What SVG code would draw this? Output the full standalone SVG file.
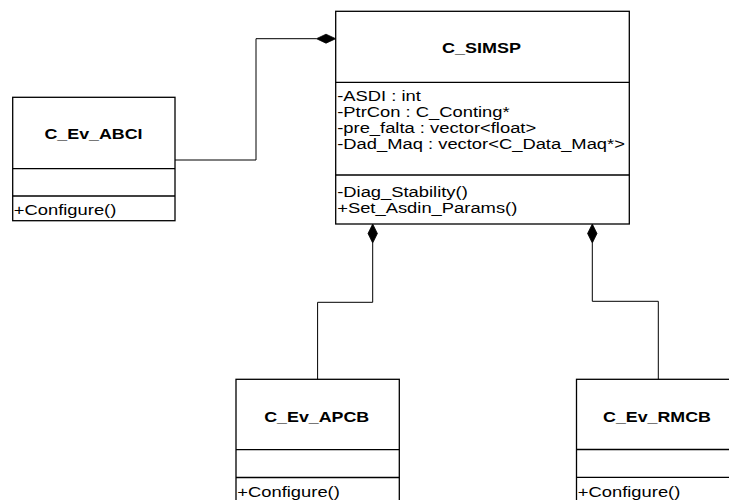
<svg xmlns="http://www.w3.org/2000/svg" width="729" height="500" viewBox="0 0 729 500">
  <style>
    .box { fill: #ffffff; stroke: #000000; stroke-width: 1.3; }
    .sep { stroke: #000000; stroke-width: 1.3; }
    .title { font-family: "Liberation Sans", Arial, sans-serif; font-size: 15.5px; font-weight: bold; fill: #000000; text-anchor: middle; }
    .member { font-family: "Liberation Sans", Arial, sans-serif; font-size: 15.5px; fill: #000000; }
    .link { fill: none; stroke: #000000; stroke-width: 1; }
    .diamond { fill: #000000; stroke: #000000; stroke-width: 0.8; }
  </style>
  <rect width="729" height="500" fill="#ffffff"/>

  <!-- composition links -->
  <g id="connectors">
    <polyline class="link" points="175,160 256,160 256,38.7 316.5,38.7"/>
    <polygon class="diamond" points="335.7,38.7 326,34.2 316.5,38.7 326,43.2"/>

    <polyline class="link" points="372.7,243 372.7,302.3 317.6,302.3 317.6,379.3"/>
    <polygon class="diamond" points="372.7,224 377.4,233.5 372.7,243 368,233.5"/>

    <polyline class="link" points="592.3,243 592.3,301.3 658.3,301.3 658.3,379.3"/>
    <polygon class="diamond" points="592.3,224 597,233.5 592.3,243 587.6,233.5"/>
  </g>

  <g id="C_SIMSP">
    <rect class="box" x="335.7" y="11.3" width="293.6" height="212.7"/>
    <line class="sep" x1="335.7" y1="82.3" x2="629.3" y2="82.3"/>
    <line class="sep" x1="335.7" y1="175" x2="629.3" y2="175"/>
    <text class="title" transform="translate(481.5,53) scale(1.16,1)">C_SIMSP</text>
    <text class="member" transform="translate(337.2,101) scale(1.185,1)">-ASDI : int</text>
    <text class="member" transform="translate(337.2,117) scale(1.185,1)">-PtrCon : C_Conting*</text>
    <text class="member" transform="translate(337.2,133) scale(1.185,1)">-pre_falta : vector&lt;float&gt;</text>
    <text class="member" transform="translate(337.2,149) scale(1.185,1)">-Dad_Maq : vector&lt;C_Data_Maq*&gt;</text>
    <text class="member" transform="translate(337.2,197) scale(1.185,1)">-Diag_Stability()</text>
    <text class="member" transform="translate(337.2,213) scale(1.185,1)">+Set_Asdin_Params()</text>
  </g>

  <g id="C_Ev_ABCI">
    <rect class="box" x="12.7" y="97.3" width="162.3" height="123.4"/>
    <line class="sep" x1="12.7" y1="168.7" x2="175" y2="168.7"/>
    <line class="sep" x1="12.7" y1="196" x2="175" y2="196"/>
    <text class="title" transform="translate(93.5,139.3) scale(1.15,1)">C_Ev_ABCI</text>
    <text class="member" transform="translate(13.8,214.5) scale(1.185,1)">+Configure()</text>
  </g>

  <g id="C_Ev_APCB">
    <rect class="box" x="236" y="379.3" width="163.3" height="130"/>
    <line class="sep" x1="236" y1="449.7" x2="399.3" y2="449.7"/>
    <line class="sep" x1="236" y1="477.5" x2="399.3" y2="477.5"/>
    <text class="title" transform="translate(316.7,421.5) scale(1.15,1)">C_Ev_APCB</text>
    <text class="member" transform="translate(237.3,496.5) scale(1.185,1)">+Configure()</text>
  </g>

  <g id="C_Ev_RMCB">
    <rect class="box" x="576.5" y="379.3" width="163.3" height="130"/>
    <line class="sep" x1="576.5" y1="449.5" x2="739.8" y2="449.5"/>
    <line class="sep" x1="576.5" y1="477.3" x2="739.8" y2="477.3"/>
    <text class="title" transform="translate(657,421.5) scale(1.15,1)">C_Ev_RMCB</text>
    <text class="member" transform="translate(577.8,496.5) scale(1.185,1)">+Configure()</text>
  </g>
</svg>
